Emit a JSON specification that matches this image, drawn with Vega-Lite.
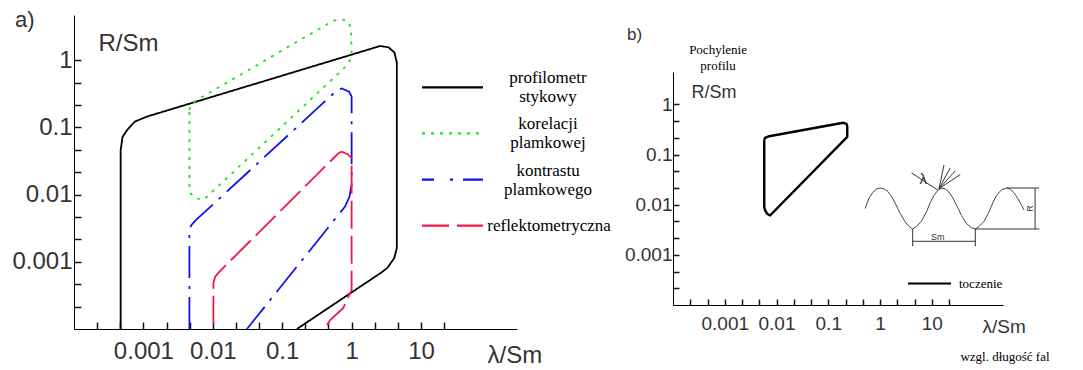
{
  "$schema": "https://vega.github.io/schema/vega-lite/v6.json",
  "width": 1083,
  "height": 370,
  "padding": 0,
  "autosize": "none",
  "background": "white",
  "config": {"view": {"stroke": null}, "font": "Liberation Sans"},
  "datasets": {
    "curvesA": [
      {"s": "profilometr stykowy", "o": 1, "x": 0.00047, "y": 0.0001},
      {"s": "profilometr stykowy", "o": 2, "x": 0.00047, "y": 0.046},
      {"s": "profilometr stykowy", "o": 3, "x": 0.0005, "y": 0.072},
      {"s": "profilometr stykowy", "o": 4, "x": 0.00058, "y": 0.091},
      {"s": "profilometr stykowy", "o": 5, "x": 0.00075, "y": 0.122},
      {"s": "profilometr stykowy", "o": 6, "x": 0.00112, "y": 0.145},
      {"s": "profilometr stykowy", "o": 7, "x": 2.57, "y": 1.63},
      {"s": "profilometr stykowy", "o": 8, "x": 3.4, "y": 1.56},
      {"s": "profilometr stykowy", "o": 9, "x": 4.15, "y": 1.3},
      {"s": "profilometr stykowy", "o": 10, "x": 4.48, "y": 0.92},
      {"s": "profilometr stykowy", "o": 11, "x": 4.48, "y": 0.0016},
      {"s": "profilometr stykowy", "o": 12, "x": 4.1, "y": 0.00113},
      {"s": "profilometr stykowy", "o": 13, "x": 3.3, "y": 0.00082},
      {"s": "profilometr stykowy", "o": 14, "x": 2.72, "y": 0.0007},
      {"s": "profilometr stykowy", "o": 15, "x": 0.163, "y": 0.0001},
      {"s": "korelacji plamkowej", "o": 1, "x": 0.0046, "y": 0.182},
      {"s": "korelacji plamkowej", "o": 2, "x": 0.0048, "y": 0.216},
      {"s": "korelacji plamkowej", "o": 3, "x": 0.0056, "y": 0.248},
      {"s": "korelacji plamkowej", "o": 4, "x": 0.547, "y": 3.89},
      {"s": "korelacji plamkowej", "o": 5, "x": 0.72, "y": 4.07},
      {"s": "korelacji plamkowej", "o": 6, "x": 0.9, "y": 3.76},
      {"s": "korelacji plamkowej", "o": 7, "x": 0.98, "y": 3.0},
      {"s": "korelacji plamkowej", "o": 8, "x": 1.0, "y": 1.27},
      {"s": "korelacji plamkowej", "o": 9, "x": 0.95, "y": 1.0},
      {"s": "korelacji plamkowej", "o": 10, "x": 0.85, "y": 0.83},
      {"s": "korelacji plamkowej", "o": 11, "x": 0.0075, "y": 0.0085},
      {"s": "korelacji plamkowej", "o": 12, "x": 0.0056, "y": 0.0088},
      {"s": "korelacji plamkowej", "o": 13, "x": 0.0047, "y": 0.0107},
      {"s": "korelacji plamkowej", "o": 14, "x": 0.0046, "y": 0.0139},
      {"s": "korelacji plamkowej", "o": 15, "x": 0.0046, "y": 0.182},
      {"s": "kontrastu plamkowego", "o": 1, "x": 0.0046, "y": 0.0001},
      {"s": "kontrastu plamkowego", "o": 2, "x": 0.0046, "y": 0.003},
      {"s": "kontrastu plamkowego", "o": 3, "x": 0.0049, "y": 0.0035},
      {"s": "kontrastu plamkowego", "o": 4, "x": 0.0056, "y": 0.0041},
      {"s": "kontrastu plamkowego", "o": 5, "x": 0.62, "y": 0.36},
      {"s": "kontrastu plamkowego", "o": 6, "x": 0.72, "y": 0.38},
      {"s": "kontrastu plamkowego", "o": 7, "x": 0.92, "y": 0.34},
      {"s": "kontrastu plamkowego", "o": 8, "x": 1.0, "y": 0.29},
      {"s": "kontrastu plamkowego", "o": 9, "x": 1.0, "y": 0.0139},
      {"s": "kontrastu plamkowego", "o": 10, "x": 0.93, "y": 0.0093},
      {"s": "kontrastu plamkowego", "o": 11, "x": 0.8, "y": 0.0066},
      {"s": "kontrastu plamkowego", "o": 12, "x": 0.031, "y": 0.0001},
      {"s": "reflektometryczna", "o": 1, "x": 0.0102, "y": 0.00012},
      {"s": "reflektometryczna", "o": 2, "x": 0.0102, "y": 0.00048},
      {"s": "reflektometryczna", "o": 3, "x": 0.0108, "y": 0.0006},
      {"s": "reflektometryczna", "o": 4, "x": 0.0124, "y": 0.00071},
      {"s": "reflektometryczna", "o": 5, "x": 0.645, "y": 0.0413},
      {"s": "reflektometryczna", "o": 6, "x": 0.72, "y": 0.0436},
      {"s": "reflektometryczna", "o": 7, "x": 0.88, "y": 0.04},
      {"s": "reflektometryczna", "o": 8, "x": 1.0, "y": 0.035},
      {"s": "reflektometryczna", "o": 9, "x": 1.0, "y": 0.00038},
      {"s": "reflektometryczna", "o": 10, "x": 0.85, "y": 0.00027},
      {"s": "reflektometryczna", "o": 11, "x": 0.76, "y": 0.000206},
      {"s": "reflektometryczna", "o": 12, "x": 0.49, "y": 0.000136},
      {"s": "reflektometryczna", "o": 13, "x": 0.41, "y": 0.0001}
    ],
    "legendA": [
      {"s": "profilometr stykowy", "r": 0, "t": "profilometr\nstykowy", "lines": 2},
      {"s": "korelacji plamkowej", "r": 1, "t": "korelacji\nplamkowej", "lines": 2},
      {"s": "kontrastu plamkowego", "r": 2, "t": "kontrastu\nplamkowego", "lines": 2},
      {"s": "reflektometryczna", "r": 3, "t": "reflektometryczna", "lines": 1}
    ],
    "curveB": [
      {"s": "toczenie", "o": 1, "x": 0.0058, "y": 0.193},
      {"s": "toczenie", "o": 2, "x": 0.006, "y": 0.215},
      {"s": "toczenie", "o": 3, "x": 0.0072, "y": 0.232},
      {"s": "toczenie", "o": 4, "x": 0.195, "y": 0.43},
      {"s": "toczenie", "o": 5, "x": 0.225, "y": 0.41},
      {"s": "toczenie", "o": 6, "x": 0.233, "y": 0.37},
      {"s": "toczenie", "o": 7, "x": 0.233, "y": 0.225},
      {"s": "toczenie", "o": 8, "x": 0.0075, "y": 0.0061},
      {"s": "toczenie", "o": 9, "x": 0.0066, "y": 0.0066},
      {"s": "toczenie", "o": 10, "x": 0.006, "y": 0.0078},
      {"s": "toczenie", "o": 11, "x": 0.0058, "y": 0.009},
      {"s": "toczenie", "o": 12, "x": 0.0058, "y": 0.193}
    ],
    "wave": [
      {"o": 1, "u": -0.76, "v": 0.5},
      {"o": 2, "u": -0.7, "v": 0.75},
      {"o": 3, "u": -0.64, "v": 0.89},
      {"o": 4, "u": -0.58, "v": 0.97},
      {"o": 5, "u": -0.52, "v": 1.0},
      {"o": 6, "u": -0.46, "v": 0.98},
      {"o": 7, "u": -0.4, "v": 0.92},
      {"o": 8, "u": -0.34, "v": 0.8},
      {"o": 9, "u": -0.28, "v": 0.63},
      {"o": 10, "u": -0.2, "v": 0.38},
      {"o": 11, "u": -0.12, "v": 0.17},
      {"o": 12, "u": -0.05, "v": 0.05},
      {"o": 13, "u": 0.0, "v": 0.0},
      {"o": 14, "u": 0.06, "v": 0.06},
      {"o": 15, "u": 0.14, "v": 0.19},
      {"o": 16, "u": 0.22, "v": 0.42},
      {"o": 17, "u": 0.28, "v": 0.64},
      {"o": 18, "u": 0.34, "v": 0.82},
      {"o": 19, "u": 0.4, "v": 0.94},
      {"o": 20, "u": 0.46, "v": 1.0},
      {"o": 21, "u": 0.52, "v": 0.98},
      {"o": 22, "u": 0.58, "v": 0.9},
      {"o": 23, "u": 0.64, "v": 0.76},
      {"o": 24, "u": 0.7, "v": 0.58},
      {"o": 25, "u": 0.78, "v": 0.33},
      {"o": 26, "u": 0.86, "v": 0.13},
      {"o": 27, "u": 0.94, "v": 0.03},
      {"o": 28, "u": 1.0, "v": 0.0},
      {"o": 29, "u": 1.06, "v": 0.06},
      {"o": 30, "u": 1.14, "v": 0.19},
      {"o": 31, "u": 1.22, "v": 0.42},
      {"o": 32, "u": 1.28, "v": 0.64},
      {"o": 33, "u": 1.34, "v": 0.82},
      {"o": 34, "u": 1.42, "v": 0.96},
      {"o": 35, "u": 1.5, "v": 1.0},
      {"o": 36, "u": 1.56, "v": 0.97},
      {"o": 37, "u": 1.62, "v": 0.88},
      {"o": 38, "u": 1.68, "v": 0.74},
      {"o": 39, "u": 1.74, "v": 0.58},
      {"o": 40, "u": 1.78, "v": 0.46}
    ],
    "segs": [
      {"u": 0, "v": 0, "u2": 0, "v2": -0.42},
      {"u": 1, "v": 0, "u2": 1, "v2": -0.42},
      {"u": 0, "v": -0.3, "u2": 1, "v2": -0.3},
      {"u": 1.5, "v": 1, "u2": 2.02, "v2": 1},
      {"u": 1, "v": 0, "u2": 2.02, "v2": 0},
      {"u": 1.955, "v": 0, "u2": 1.955, "v2": 1},
      {"u": -0.02, "v": 1.37, "u2": 0.4, "v2": 0.95},
      {"u": 0.42, "v": 0.98, "u2": 0.5, "v2": 1.56},
      {"u": 0.42, "v": 0.98, "u2": 0.6, "v2": 1.49},
      {"u": 0.42, "v": 0.98, "u2": 0.68, "v2": 1.42},
      {"u": 0.42, "v": 0.98, "u2": 0.76, "v2": 1.33}
    ]
  },
  "layer": [
    {
      "layer": [
        {
          "data": {"name": "curvesA"},
          "mark": {"type": "line", "strokeWidth": 1.8, "strokeCap": "butt"},
          "encoding": {
            "x": {
              "field": "x", "type": "quantitative",
              "scale": {"type": "log", "domain": [0.0001, 241.5], "range": [74, 517], "nice": false},
              "axis": {
                "orient": "bottom", "offset": -41, "ticks": true,
                "values": [0.00021544, 0.00046416, 0.001, 0.0021544, 0.0046416, 0.01, 0.021544, 0.046416, 0.1, 0.21544, 0.46416, 1, 2.1544, 4.6416, 10, 21.544],
                "tickSize": -7, "tickColor": "#111111", "tickWidth": 1.5, "domainColor": "#000", "domainWidth": 1, "grid": false,
                "labelFont": "Liberation Sans", "labelFontSize": 24, "labelColor": "#333", "labelPadding": 17, "labelFlush": false, "labelOverlap": false, "labelBaseline": "top",
                "labelExpr": "abs(log(datum.value)/LN10 - round(log(datum.value)/LN10)) < 0.01 && datum.value > 0.0005 && datum.value < 50 ? format(datum.value, '~g') : ''",
                "title": "λ/Sm", "titleFont": "Liberation Sans", "titleFontSize": 24, "titleFontWeight": "normal", "titleColor": "#333",
                "titleX": 487, "titleY": 33, "titleAlign": "left", "titleBaseline": "alphabetic"
              }
            },
            "y": {
              "field": "y", "type": "quantitative",
              "scale": {"type": "log", "domain": [0.0001, 4.72], "range": [329, 15], "nice": false},
              "axis": {
                "orient": "left", "offset": -74, "ticks": true,
                "values": [0.00021544, 0.00046416, 0.001, 0.0021544, 0.0046416, 0.01, 0.021544, 0.046416, 0.1, 0.21544, 0.46416, 1],
                "tickSize": -7, "tickColor": "#111111", "tickWidth": 1.5, "domainColor": "#000", "domainWidth": 1, "grid": false,
                "labelFont": "Liberation Sans", "labelFontSize": 24, "labelColor": "#333", "labelPadding": 9, "labelFlush": false, "labelOverlap": false, "labelAlign": "right", "labelBaseline": "middle",
                "labelExpr": "abs(log(datum.value)/LN10 - round(log(datum.value)/LN10)) < 0.01 && datum.value > 0.0005 ? format(datum.value, '~g') : ''",
                "title": "R/Sm", "titleFont": "Liberation Sans", "titleFontSize": 24, "titleFontWeight": "normal", "titleColor": "#333",
                "titleAngle": 0, "titleX": 24, "titleY": 50, "titleAlign": "left", "titleBaseline": "alphabetic"
              }
            },
            "color": {
              "field": "s", "type": "nominal",
              "scale": {"domain": ["profilometr stykowy", "korelacji plamkowej", "kontrastu plamkowego", "reflektometryczna"], "range": ["#000000", "#1de51d", "#1010f0", "#f01848"]},
              "legend": null
            },
            "strokeDash": {
              "field": "s", "type": "nominal",
              "scale": {"domain": ["profilometr stykowy", "korelacji plamkowej", "kontrastu plamkowego", "reflektometryczna"], "range": [[1, 0], [3, 6], [32, 8, 3, 8], [28, 7]]},
              "legend": null
            },
            "order": {"field": "o", "type": "quantitative"}
          }
        },
        {
          "mark": {"type": "point", "shape": "M0,-1L0.28,1L-0.28,1Z", "filled": true, "color": "#000", "opacity": 1, "size": 225},
          "encoding": {"x": {"datum": 0.0001, "type": "quantitative"}, "y": {"datum": 3.78, "type": "quantitative"}}
        },
        {
          "mark": {"type": "point", "shape": "M1,0L-1,0.28L-1,-0.28Z", "filled": true, "color": "#000", "opacity": 1, "size": 225},
          "encoding": {"x": {"datum": 188.4, "type": "quantitative"}, "y": {"datum": 0.0001, "type": "quantitative"}}
        },
        {
          "data": {"values": [{"t": "a)", "x": 1.41e-5, "y": 3.13}]},
          "mark": {"type": "text", "font": "Liberation Sans", "fontSize": 22, "align": "left", "baseline": "alphabetic", "color": "#333"},
          "encoding": {"x": {"field": "x", "type": "quantitative"}, "y": {"field": "y", "type": "quantitative"}, "text": {"field": "t"}}
        }
      ]
    },
    {
      "data": {"name": "legendA"},
      "layer": [
        {
          "mark": {"type": "rule", "strokeWidth": 2.2, "strokeCap": "butt"},
          "encoding": {
            "x": {"datum": 0, "type": "quantitative", "scale": {"domain": [0, 1], "range": [422, 483], "zero": false, "nice": false}, "axis": null},
            "x2": {"datum": 1},
            "y": {"field": "r", "type": "quantitative", "scale": {"domain": [0, 3], "range": [87.3, 225.7], "zero": false, "nice": false}, "axis": null},
            "color": {
              "field": "s", "type": "nominal", "legend": null,
              "scale": {"domain": ["profilometr stykowy", "korelacji plamkowej", "kontrastu plamkowego", "reflektometryczna"], "range": ["#000000", "#1de51d", "#1010f0", "#f01848"]}
            },
            "strokeDash": {
              "field": "s", "type": "nominal", "legend": null,
              "scale": {"domain": ["profilometr stykowy", "korelacji plamkowej", "kontrastu plamkowego", "reflektometryczna"], "range": [[1, 0], [3, 6], [12, 16, 3, 10, 30, 0], [27, 8]]}
            }
          }
        },
        {
          "transform": [{"filter": "datum.lines == 2"}],
          "mark": {"type": "text", "font": "Liberation Serif", "fontSize": 17, "align": "center", "baseline": "middle", "color": "#000", "lineBreak": "\n", "lineHeight": 19, "dy": -9},
          "encoding": {
            "x": {"datum": 2.066, "type": "quantitative"},
            "y": {"field": "r", "type": "quantitative"},
            "text": {"field": "t"}
          }
        },
        {
          "transform": [{"filter": "datum.lines == 1"}],
          "mark": {"type": "text", "font": "Liberation Serif", "fontSize": 17, "align": "left", "baseline": "middle", "color": "#000"},
          "encoding": {
            "x": {"datum": 1.07, "type": "quantitative"},
            "y": {"field": "r", "type": "quantitative"},
            "text": {"field": "t"}
          }
        }
      ]
    },
    {
      "layer": [
        {
          "data": {"name": "curveB"},
          "mark": {"type": "line", "strokeWidth": 2.4, "strokeJoin": "round"},
          "encoding": {
            "x": {
              "field": "x", "type": "quantitative",
              "scale": {"type": "log", "domain": [0.0001, 238], "range": [673, 1003], "nice": false},
              "axis": {
                "orient": "bottom", "offset": -65, "ticks": true,
                "values": [0.00021544, 0.00046416, 0.001, 0.0021544, 0.0046416, 0.01, 0.021544, 0.046416, 0.1, 0.21544, 0.46416, 1, 2.1544, 4.6416, 10, 21.544],
                "tickSize": -6, "tickColor": "#111111", "tickWidth": 1.5, "domainColor": "#000", "domainWidth": 1, "grid": false,
                "labelFont": "Liberation Sans", "labelFontSize": 19, "labelColor": "#333", "labelPadding": 15, "labelFlush": false, "labelOverlap": false, "labelBaseline": "top",
                "labelExpr": "abs(log(datum.value)/LN10 - round(log(datum.value)/LN10)) < 0.01 && datum.value > 0.0005 && datum.value < 50 ? format(datum.value, '~g') : ''",
                "title": "λ/Sm", "titleFont": "Liberation Sans", "titleFontSize": 19, "titleFontWeight": "normal", "titleColor": "#333",
                "titleX": 982, "titleY": 27, "titleAlign": "left", "titleBaseline": "alphabetic"
              }
            },
            "y": {
              "field": "y", "type": "quantitative",
              "scale": {"type": "log", "domain": [0.0001, 4.43], "range": [305, 72], "nice": false},
              "axis": {
                "orient": "left", "offset": -673, "ticks": true,
                "values": [0.00021544, 0.00046416, 0.001, 0.0021544, 0.0046416, 0.01, 0.021544, 0.046416, 0.1, 0.21544, 0.46416, 1],
                "tickSize": -6, "tickColor": "#111111", "tickWidth": 1.5, "domainColor": "#000", "domainWidth": 1, "grid": false,
                "labelFont": "Liberation Sans", "labelFontSize": 19, "labelColor": "#333", "labelPadding": 7, "labelFlush": false, "labelOverlap": false, "labelAlign": "right", "labelBaseline": "middle",
                "labelExpr": "abs(log(datum.value)/LN10 - round(log(datum.value)/LN10)) < 0.01 && datum.value > 0.0005 ? format(datum.value, '~g') : ''",
                "title": "R/Sm", "titleFont": "Liberation Sans", "titleFontSize": 18, "titleFontWeight": "normal", "titleColor": "#333",
                "titleAngle": 0, "titleX": 18, "titleY": 97, "titleAlign": "left", "titleBaseline": "alphabetic"
              }
            },
            "color": {
              "field": "s", "type": "nominal",
              "scale": {"domain": ["toczenie"], "range": ["#000000"]},
              "legend": {"title": null, "orient": "none", "legendX": 907, "legendY": 261, "padding": 0, "symbolType": "stroke", "symbolSize": 1849, "symbolStrokeWidth": 2, "labelFont": "Liberation Serif", "labelFontSize": 13, "labelColor": "#000", "labelOffset": 7}
            },
            "order": {"field": "o", "type": "quantitative"}
          }
        },
        {
          "mark": {"type": "point", "shape": "M0,-1L0.28,1L-0.28,1Z", "filled": true, "color": "#000", "opacity": 1, "size": 144},
          "encoding": {"x": {"datum": 0.0001, "type": "quantitative"}, "y": {"datum": 3.68, "type": "quantitative"}}
        },
        {
          "mark": {"type": "point", "shape": "M1,0L-1,0.28L-1,-0.28Z", "filled": true, "color": "#000", "opacity": 1, "size": 144},
          "encoding": {"x": {"datum": 190.5, "type": "quantitative"}, "y": {"datum": 0.0001, "type": "quantitative"}}
        },
        {
          "data": {"values": [{"t": "b)", "x": 1.29e-5, "y": 19.3}]},
          "mark": {"type": "text", "font": "Liberation Sans", "fontSize": 17, "align": "left", "baseline": "alphabetic", "color": "#333"},
          "encoding": {"x": {"field": "x", "type": "quantitative"}, "y": {"field": "y", "type": "quantitative"}, "text": {"field": "t"}}
        },
        {
          "data": {"values": [{"t": "Pochylenie\nprofilu", "x": 0.000741, "y": 10.1}, {"t": "wzgl. długość fal", "x": 260, "y": 7.7e-6}]},
          "mark": {"type": "text", "font": "Liberation Serif", "fontSize": 13, "align": "center", "baseline": "alphabetic", "color": "#000", "lineBreak": "\n", "lineHeight": 16},
          "encoding": {"x": {"field": "x", "type": "quantitative"}, "y": {"field": "y", "type": "quantitative"}, "text": {"field": "t"}}
        }
      ]
    },
    {
      "layer": [
        {
          "data": {"name": "wave"},
          "mark": {"type": "line", "strokeWidth": 1, "color": "#444"},
          "encoding": {
            "x": {"field": "u", "type": "quantitative", "scale": {"domain": [0, 1], "range": [912.7, 975.3], "zero": false, "nice": false}, "axis": null},
            "y": {"field": "v", "type": "quantitative", "scale": {"domain": [0, 1], "range": [229, 188], "zero": false, "nice": false}, "axis": null},
            "order": {"field": "o", "type": "quantitative"}
          }
        },
        {
          "data": {"name": "segs"},
          "mark": {"type": "rule", "strokeWidth": 1, "color": "#333"},
          "encoding": {
            "x": {"field": "u", "type": "quantitative"},
            "y": {"field": "v", "type": "quantitative"},
            "x2": {"field": "u2"},
            "y2": {"field": "v2"}
          }
        },
        {
          "data": {"values": [{"t": "Sm", "u": 0.4, "v": -0.2}]},
          "mark": {"type": "text", "font": "Liberation Sans", "fontSize": 9, "color": "#333"},
          "encoding": {"x": {"field": "u", "type": "quantitative"}, "y": {"field": "v", "type": "quantitative"}, "text": {"field": "t"}}
        },
        {
          "data": {"values": [{"t": "R", "u": 1.87, "v": 0.5}]},
          "mark": {"type": "text", "font": "Liberation Sans", "fontSize": 9, "color": "#333", "angle": 270},
          "encoding": {"x": {"field": "u", "type": "quantitative"}, "y": {"field": "v", "type": "quantitative"}, "text": {"field": "t"}}
        },
        {
          "data": {"values": [{"t": "λ", "u": 0.17, "v": 1.22}]},
          "mark": {"type": "text", "font": "Liberation Sans", "fontSize": 15, "color": "#333"},
          "encoding": {"x": {"field": "u", "type": "quantitative"}, "y": {"field": "v", "type": "quantitative"}, "text": {"field": "t"}}
        }
      ]
    }
  ],
  "resolve": {
    "scale": {"x": "independent", "y": "independent", "color": "independent", "strokeDash": "independent"},
    "axis": {"x": "independent", "y": "independent"},
    "legend": {"color": "independent", "strokeDash": "independent"}
  }
}
